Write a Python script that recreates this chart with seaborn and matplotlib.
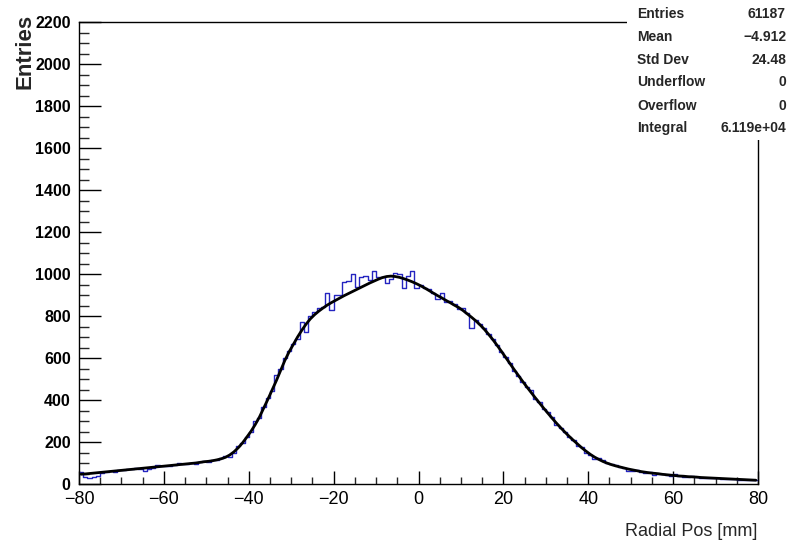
import numpy as np
import pandas as pd
import matplotlib
matplotlib.use("Agg")
import matplotlib.pyplot as plt
from matplotlib.patches import Rectangle
from matplotlib.ticker import MultipleLocator
import seaborn as sns

# Histogram binning: 1 mm bins from -80 to 80 mm (low edges)
bin_low = list(range(-80, 80))

# Bin contents (entries per 1 mm bin)
counts = [
    58, 33, 28, 31, 40, 54, 55, 60, 57, 66,          # -80 .. -71
    68, 73, 70, 74, 70, 62, 70, 77, 92, 84,          # -70 .. -61
    86, 87, 90, 101, 94, 93, 98, 97, 104, 108,       # -60 .. -51
    107, 116, 112, 124, 133, 128, 150, 182, 196, 226,  # -50 .. -41
    250, 300, 312, 366, 410, 442, 520, 548, 598, 632,  # -40 .. -31
    668, 690, 770, 726, 800, 818, 840, 844, 910, 830,  # -30 .. -21
    898, 902, 960, 965, 1000, 938, 985, 990, 972, 1016,  # -20 .. -11
    985, 988, 955, 978, 1004, 1000, 935, 990, 1016, 934,  # -10 .. -1
    948, 932, 928, 910, 880, 908, 868, 872, 858, 832,  # 0 .. 9
    836, 812, 745, 780, 762, 742, 716, 690, 660, 628,  # 10 .. 19
    606, 578, 540, 512, 484, 462, 448, 404, 392, 358,  # 20 .. 29
    342, 320, 282, 268, 250, 222, 210, 182, 178, 150,  # 30 .. 39
    140, 120, 122, 112, 102, 96, 90, 82, 78, 64,     # 40 .. 49
    62, 66, 58, 52, 57, 44, 50, 47, 42, 40,          # 50 .. 59
    46, 38, 32, 34, 36, 33, 30, 28, 30, 27,          # 60 .. 69
    28, 26, 24, 25, 22, 21, 20, 19, 18, 20,          # 70 .. 79
]

# Fitted function evaluated at the bin centres
fit_vals = [
    47, 48, 50, 52, 54, 56, 58, 60, 62, 64,
    66, 68, 70, 72, 74, 76, 78, 80, 82, 84,
    86, 88, 90, 92, 94, 96, 98, 100, 103, 106,
    108, 111, 115, 120, 127, 138, 153, 172, 195, 222,
    250, 282, 318, 360, 403, 447, 492, 540, 588, 629,
    665, 700, 732, 761, 786, 806, 823, 838, 852, 864,
    875, 886, 897, 907, 917, 927, 937, 947, 957, 966,
    975, 983, 988, 990, 988, 984, 978, 971, 963, 954,
    944, 933, 921, 909, 897, 886, 874, 863, 851, 840,
    826, 810, 794, 777, 758, 737, 713, 688, 661, 633,
    604, 575, 546, 518, 490, 463, 437, 411, 386, 361,
    337, 313, 290, 268, 247, 227, 208, 190, 172, 156,
    141, 128, 117, 107, 99, 92, 86, 81, 76, 71,
    67, 63, 59, 56, 53, 51, 49, 46, 44, 42,
    40, 38, 37, 35, 34, 33, 31, 30, 29, 28,
    27, 26, 25, 24, 23, 22, 21, 20, 19, 18,
]

# Statistics box entries
stat_names = ["Entries", "Mean", "Std Dev", "Underflow", "Overflow", "Integral"]
stat_values = ["61187", "\u22124.912", "24.48", "0", "0", "6.119e+04"]

sns.set_style("white")
plt.rcParams["font.family"] = ["Liberation Sans", "DejaVu Sans"]

fig = plt.figure(figsize=(7.97, 5.44), dpi=100)
ax = fig.add_axes([79 / 797, 1 - 484 / 544, (758 - 79) / 797, (484 - 22) / 544])

centers = np.array(bin_low) + 0.5
df = pd.DataFrame({"radial_pos": centers, "entries": counts})

sns.histplot(data=df, x="radial_pos", weights="entries",
             binwidth=1, binrange=(bin_low[0], bin_low[-1] + 1),
             element="step", fill=False, color="#2424c0", linewidth=1.0, ax=ax)
sns.lineplot(x=centers, y=fit_vals, color="black", linewidth=2.0, ax=ax)

ax.set_xlim(-80, 80)
ax.set_ylim(0, 2200)
ax.set_xlabel("")
ax.set_ylabel("")

ax.xaxis.set_major_locator(MultipleLocator(20))
ax.xaxis.set_minor_locator(MultipleLocator(5))
ax.yaxis.set_major_locator(MultipleLocator(200))
ax.yaxis.set_minor_locator(MultipleLocator(50))

ax.tick_params(axis="x", which="major", direction="in", length=9.6, width=1.0,
               labelsize=13, pad=5, colors="black")
ax.tick_params(axis="x", which="minor", direction="in", length=4.8, width=1.0)
ax.tick_params(axis="y", which="major", direction="in", length=15.6, width=1.0,
               labelsize=11.5, pad=6, colors="black")
ax.tick_params(axis="y", which="minor", direction="in", length=7.2, width=1.0)
ax.tick_params(bottom=True, left=True, top=False, right=False, which="both")
for lbl in ax.get_yticklabels():
    lbl.set_fontweight("bold")

for side in ["left", "bottom", "top", "right"]:
    ax.spines[side].set_visible(True)
    ax.spines[side].set_color("black")
    ax.spines[side].set_linewidth(1.0)

# Statistics box in the top-right corner
fig.add_artist(Rectangle((627 / 797, 1 - 140 / 544), 1 - 627 / 797, 140 / 544,
                         transform=fig.transFigure, facecolor="white",
                         edgecolor="none", zorder=10))
row_y = [14, 37, 60, 82, 106, 128]
for name, val, yp in zip(stat_names, stat_values, row_y):
    fig.text(637 / 797, 1 - yp / 544, name, ha="left", va="center",
             fontsize=10, fontweight="bold", zorder=11)
    fig.text(786 / 797, 1 - yp / 544, val, ha="right", va="center",
             fontsize=10, fontweight="bold", zorder=11)

fig.text(25 / 797, 1 - 14 / 544, "Entries", rotation=90, ha="center", va="top",
         fontsize=16, fontweight="bold")
fig.text(757 / 797, 1 - 531 / 544, "Radial Pos [mm]", ha="right", va="center",
         fontsize=13)

fig.savefig("out.png", dpi=100)
